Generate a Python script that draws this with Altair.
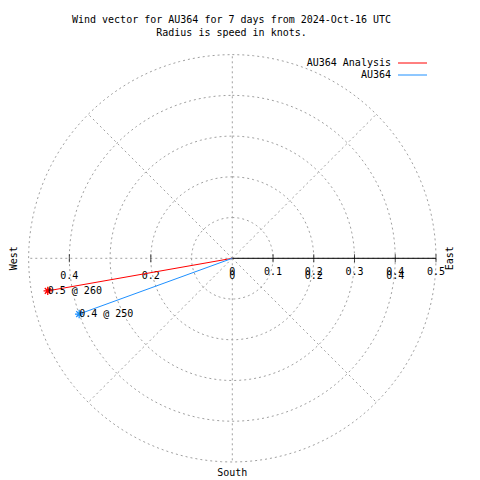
import altair as alt
import pandas as pd

# ---- data ----
SERIES = ["AU364 Analysis", "AU364"]
COLORS = ["#ff0000", "#1e90ff"]
SPEED = [0.46, 0.40]          # knots
DIRECTION = [260, 250]        # degrees
RINGS = [0.1, 0.2, 0.3, 0.4, 0.5]
SPOKES = [0, 45, 90, 135, 180, 225, 270, 315]
R_TICKS = [0.0, 0.1, 0.2, 0.3, 0.4, 0.5]
R_TICK_LABELS = ["0", "0.1", "0.2", "0.3", "0.4", "0.5"]
X_TICKS = [-0.4, -0.2, 0.0, 0.2, 0.4]
X_TICK_LABELS = ["0.4", "0.2", "0", "0.2", "0.4"]
COMPASS = ["East", "South", "West"]
COMPASS_DIR = [90, 180, 270]
COMPASS_R = [0.534, 0.526, 0.536]
COMPASS_ANGLE = [270, 0, 270]
TITLE_LINES = ["Wind vector for AU364 for 7 days from 2024-Oct-16 UTC",
               "Radius is speed in knots."]

FONT = "DejaVu Sans Mono"
FS = 10
GRID = "#a0a0a0"
W, H = 464, 472

xs = alt.Scale(domain=[-0.55056, 0.58837], nice=False, zero=False)
ys = alt.Scale(domain=[-0.54418, 0.61439], nice=False, zero=False)

def X(f):
    return alt.X(f, type="quantitative", scale=xs, axis=None)

def Y(f):
    return alt.Y(f, type="quantitative", scale=ys, axis=None)

# grid rings
ring_df = pd.DataFrame([(r, a) for r in RINGS for a in range(0, 361, 3)], columns=["r", "deg"])
rings = alt.Chart(ring_df).transform_calculate(
    x="datum.r*sin(datum.deg*PI/180)", y="datum.r*cos(datum.deg*PI/180)"
).mark_line(stroke=GRID, strokeWidth=1, strokeDash=[2, 3]).encode(
    x=X("x"), y=Y("y"), detail="r:N", order="deg:Q")

spokes = alt.Chart(pd.DataFrame({"deg": SPOKES})).transform_calculate(
    x0="0", y0="0",
    x="0.5*sin(datum.deg*PI/180)", y="0.5*cos(datum.deg*PI/180)"
).mark_rule(stroke=GRID, strokeWidth=1, strokeDash=[2, 3]).encode(
    x=X("x0"), y=Y("y0"), x2="x:Q", y2="y:Q")

# solid radial axis to the east
raxis = alt.Chart(pd.DataFrame({"a": [0.0], "b": [max(RINGS)], "z": [0.0]})).mark_rule(
    color="black", strokeWidth=1).encode(x=X("a"), x2="b:Q", y=Y("z"))

tick_df = pd.DataFrame({"t": sorted(set(R_TICKS[1:] + [t for t in X_TICKS if t != 0]))})
tick_df["z"] = 0.0
ticks = alt.Chart(tick_df).mark_tick(orient="vertical", size=8, thickness=1, color="black").encode(
    x=X("t"), y=Y("z"))

rlab = alt.Chart(pd.DataFrame({"t": R_TICKS, "lab": R_TICK_LABELS, "z": 0.0})).mark_text(
    font=FONT, fontSize=FS, color="black", dy=14, baseline="middle").encode(
    x=X("t"), y=Y("z"), text="lab:N")
xlab = alt.Chart(pd.DataFrame({"t": X_TICKS, "lab": X_TICK_LABELS, "z": 0.0})).mark_text(
    font=FONT, fontSize=FS, color="black", dy=18, baseline="middle").encode(
    x=X("t"), y=Y("z"), text="lab:N")

# wind vectors
vec_df = pd.DataFrame({"series": SERIES, "speed": SPEED, "dir": DIRECTION})
cscale = alt.Scale(domain=SERIES, range=COLORS)
vbase = alt.Chart(vec_df).transform_calculate(
    x0="0", y0="0",
    x="datum.speed*sin(datum.dir*PI/180)", y="datum.speed*cos(datum.dir*PI/180)",
    lab="format(datum.speed, '.1f') + ' @ ' + datum.dir")
vectors = vbase.mark_rule(strokeWidth=1).encode(
    x=X("x0"), y=Y("y0"), x2="x:Q", y2="y:Q",
    color=alt.Color("series:N", scale=cscale, legend=None))
STAR = "M-1,0L1,0M0,-1L0,1M-0.7,-0.7L0.7,0.7M-0.7,0.7L0.7,-0.7"
stars = vbase.mark_point(shape=STAR, size=70, filled=False, strokeWidth=1.3, opacity=1).encode(
    x=X("x"), y=Y("y"), color=alt.Color("series:N", scale=cscale, legend=None))
vlabels = vbase.mark_text(font=FONT, fontSize=FS, color="black", align="left",
                          baseline="middle").encode(x=X("x"), y=Y("y"), text="lab:N")

# compass labels
comp_df = pd.DataFrame({"name": COMPASS, "dir": COMPASS_DIR, "r": COMPASS_R, "ang": COMPASS_ANGLE})
comp_base = alt.Chart(comp_df).transform_calculate(
    x="datum.r*sin(datum.dir*PI/180)", y="datum.r*cos(datum.dir*PI/180)")
compass = [
    comp_base.transform_filter(alt.datum.ang == a).mark_text(
        font=FONT, fontSize=FS, color="black", angle=a, baseline="middle", align="center"
    ).encode(x=X("x"), y=Y("y"), text="name:N")
    for a in sorted(set(COMPASS_ANGLE))]

# title (two lines)
title_df = pd.DataFrame({"t": TITLE_LINES, "i": [0, 1]})
title = [
    alt.Chart(title_df).transform_filter(alt.datum.i == i).mark_text(
        font=FONT, fontSize=FS, color="black", baseline="middle").encode(
        x=alt.value(223.5), y=alt.value(yv), text="t:N")
    for i, yv in [(0, 12), (1, 25)]]

# legend
leg_df = pd.DataFrame({"series": SERIES, "i": [0, 1]})
legend = []
for i, yv in [(0, 55), (1, 67)]:
    b = alt.Chart(leg_df).transform_filter(alt.datum.i == i)
    legend.append(b.mark_text(font=FONT, fontSize=FS, color="black", align="right",
                              baseline="middle").encode(
        x=alt.value(383), y=alt.value(yv), text="series:N"))
    legend.append(b.mark_rule(strokeWidth=1).encode(
        x=alt.value(390), x2=alt.value(419), y=alt.value(yv),
        color=alt.Color("series:N", scale=cscale, legend=None)))

full = alt.layer(
    rings, spokes, raxis, ticks, rlab, xlab, vectors, stars, vlabels, *compass, *title, *legend
).properties(
    width=W, height=H, padding=0, background="white",
    autosize=alt.AutoSizeParams(type="none")
).configure_view(strokeOpacity=0, strokeWidth=0)

full.save("out.html", embed_options={"renderer": "svg", "actions": False})
